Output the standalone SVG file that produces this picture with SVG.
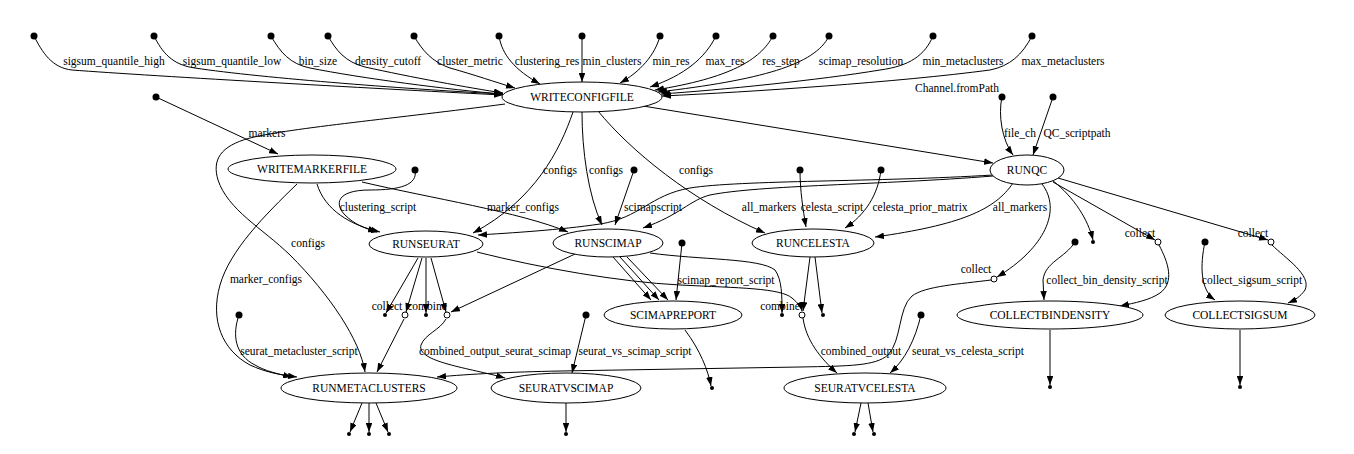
<svg xmlns="http://www.w3.org/2000/svg" width="1354" height="454" viewBox="0 0 1354 454">
<style>
text{font-family:"Liberation Serif","Times New Roman",serif;font-size:11.5px;fill:#000;text-anchor:middle}
.n ellipse{fill:#fff;stroke:#000;stroke-width:1}
.e path{fill:none;stroke:#000;stroke-width:1;marker-end:url(#a)}
.src{fill:#000}
.snk{fill:#000}
.oc{fill:#fff;stroke:#000;stroke-width:1}
</style>
<defs>
<marker id="a" viewBox="0 0 9 6.5" refX="9" refY="3.25" markerWidth="9" markerHeight="6.5" markerUnits="userSpaceOnUse" orient="auto"><path d="M0,0L9,3.25L0,6.5z" fill="#000"/></marker>
</defs>
<rect width="1354" height="454" fill="#fff"/>

<g id="connectors" class="e">
<path d="M34,36 C42,52 52,68 72,70 C150,76 400,90 503,95"/>
<path d="M154,36 C162,52 172,65 195,68 C260,78 420,90 503,94"/>
<path d="M271,36 C280,52 290,64 310,68 C360,78 450,90 503,94"/>
<path d="M328,36 C336,50 345,62 365,67 C410,77 470,88 503,93"/>
<path d="M414,36 C422,50 432,62 450,68 C475,75 495,82 515,88"/>
<path d="M499,36 C502,55 515,70 540,84"/>
<path d="M582,36 L582,82"/>
<path d="M660,36 C655,55 640,72 620,83"/>
<path d="M716,36 C705,58 685,75 650,87"/>
<path d="M773,36 C760,60 730,78 655,90"/>
<path d="M829,36 C815,65 760,80 658,92"/>
<path d="M933,36 C925,55 910,66 880,70 C820,80 720,90 661,94"/>
<path d="M1032,36 C1022,55 1010,66 990,70 C900,82 750,92 662,96"/>
<path d="M505,104 C400,118 290,128 250,138 C220,146 212,160 218,180 C228,210 262,228 290,255 C330,295 360,340 365,372"/>
<path d="M573,112 C560,150 535,200 473,233"/>
<path d="M582,112 C582,150 588,195 602,225"/>
<path d="M598,111 C630,150 690,200 765,233"/>
<path d="M643,106 L993,163"/>
<path d="M156,97 L278,154"/>
<path d="M1002,97 C998,115 1002,140 1013,155"/>
<path d="M1053,97 L1033,155"/>
<path d="M317,184 C325,210 350,225 380,232"/>
<path d="M362,182 C430,198 520,212 568,232"/>
<path d="M297,184 C265,215 230,250 220,285 C210,320 222,350 250,365 C265,372 280,375 297,377"/>
<path d="M415,170 C418,185 400,190 370,190 C335,190 335,205 345,215 C355,225 365,228 377,232"/>
<path d="M993,175 C880,182 740,180 690,188 C650,195 640,218 600,224 C560,230 510,233 478,235"/>
<path d="M993,176 C880,185 760,185 710,195 C690,200 680,215 643,228"/>
<path d="M1013,183 C995,210 960,225 875,237"/>
<path d="M1052,180 C1075,198 1088,220 1093,240"/>
<path d="M1053,182 L1155,240"/>
<path d="M1058,178 L1268,240"/>
<path d="M1042,184 C1062,210 1045,248 997,277"/>
<path d="M991,280 C960,284 925,286 912,296 C898,308 902,340 888,355 C875,366 850,366 800,367 L560,371 C510,372 470,374 437,377"/>
<path d="M1159,245 C1168,262 1175,282 1160,293 C1150,300 1135,303 1120,306"/>
<path d="M1272,245 C1285,258 1312,275 1305,290 C1300,297 1295,300 1288,303"/>
<path d="M1075,242 C1065,258 1045,262 1043,280 L1044,300"/>
<path d="M1205,242 C1200,265 1200,290 1215,300"/>
<path d="M1050,330 L1050,385"/>
<path d="M1240,330 L1240,385"/>
<path d="M418,258 L386,313"/>
<path d="M422,258 L406,312"/>
<path d="M426,258 L426,313"/>
<path d="M431,258 L446,312"/>
<path d="M404,319 L377,372"/>
<path d="M446,319 C440,330 425,334 421,345 C416,362 470,368 505,378"/>
<path d="M575,254 L451,312"/>
<path d="M477,252 C540,268 620,282 680,285 C740,288 780,288 792,298 C798,303 801,307 802,311"/>
<path d="M650,253 C700,260 760,258 775,270 C782,280 782,295 782,313"/>
<path d="M613,257 L651,300"/>
<path d="M620,257 L659,300"/>
<path d="M627,257 L668,300"/>
<path d="M682,243 L676,300"/>
<path d="M634,170 L615,225"/>
<path d="M800,170 C800,190 803,210 806,227"/>
<path d="M881,170 C878,195 865,215 845,228"/>
<path d="M810,257 L803,311"/>
<path d="M815,257 L822,313"/>
<path d="M803,318 C806,340 820,358 837,373"/>
<path d="M921,315 C915,340 905,360 890,373"/>
<path d="M685,330 C700,350 708,370 711,386"/>
<path d="M586,315 L572,373"/>
<path d="M239,315 C232,335 235,355 255,365 C265,371 278,374 292,377"/>
<path d="M566,403 L566,432"/>
<path d="M861,403 L855,432"/>
<path d="M868,403 L873,432"/>
<path d="M362,403 L350,432"/>
<path d="M369,403 L369,432"/>
<path d="M376,403 L388,432"/>
</g>

<g id="points">
<circle class="src" cx="34" cy="36" r="3.5"/><circle class="src" cx="154" cy="36" r="3.5"/>
<circle class="src" cx="271" cy="36" r="3.5"/><circle class="src" cx="328" cy="36" r="3.5"/>
<circle class="src" cx="414" cy="36" r="3.5"/><circle class="src" cx="499" cy="36" r="3.5"/>
<circle class="src" cx="582" cy="36" r="3.5"/><circle class="src" cx="660" cy="36" r="3.5"/>
<circle class="src" cx="716" cy="36" r="3.5"/><circle class="src" cx="773" cy="36" r="3.5"/>
<circle class="src" cx="829" cy="36" r="3.5"/><circle class="src" cx="933" cy="36" r="3.5"/>
<circle class="src" cx="1032" cy="36" r="3.5"/>
<circle class="src" cx="156" cy="97" r="3.5"/>
<circle class="src" cx="1002" cy="97" r="3.5"/><circle class="src" cx="1053" cy="97" r="3.5"/>
<circle class="src" cx="415" cy="170" r="3.5"/><circle class="src" cx="634" cy="170" r="3.5"/>
<circle class="src" cx="800" cy="170" r="3.5"/><circle class="src" cx="881" cy="170" r="3.5"/>
<circle class="src" cx="682" cy="243" r="3.5"/><circle class="src" cx="1075" cy="242" r="3.5"/>
<circle class="src" cx="1205" cy="242" r="3.5"/>
<circle class="src" cx="239" cy="315" r="3.5"/><circle class="src" cx="586" cy="315" r="3.5"/>
<circle class="src" cx="921" cy="315" r="3.5"/>
<circle class="snk" cx="1093" cy="242" r="2"/>
<circle class="snk" cx="385" cy="315" r="2"/><circle class="snk" cx="426" cy="315" r="2"/>
<circle class="snk" cx="782" cy="315" r="2"/><circle class="snk" cx="823" cy="315" r="2"/>
<circle class="snk" cx="712" cy="388" r="2"/>
<circle class="snk" cx="1050" cy="387" r="2"/><circle class="snk" cx="1240" cy="387" r="2"/>
<circle class="snk" cx="566" cy="434" r="2"/>
<circle class="snk" cx="854" cy="434" r="2"/><circle class="snk" cx="874" cy="434" r="2"/>
<circle class="snk" cx="349" cy="434" r="2"/><circle class="snk" cx="369" cy="434" r="2"/><circle class="snk" cx="389" cy="434" r="2"/>
<circle class="oc" cx="405" cy="315" r="3"/><circle class="oc" cx="447" cy="315" r="3"/>
<circle class="oc" cx="802" cy="315" r="3"/>
<circle class="oc" cx="1158" cy="242" r="3"/><circle class="oc" cx="1271" cy="242" r="3"/>
<circle class="oc" cx="994" cy="279" r="3"/>
</g>

<g id="edge-labels">
<text x="114" y="65">sigsum_quantile_high</text>
<text x="232" y="65">sigsum_quantile_low</text>
<text x="318" y="65">bin_size</text>
<text x="388" y="65">density_cutoff</text>
<text x="470" y="65">cluster_metric</text>
<text x="547" y="65">clustering_res</text>
<text x="612" y="65">min_clusters</text>
<text x="671" y="65">min_res</text>
<text x="725" y="65">max_res</text>
<text x="781" y="65">res_step</text>
<text x="861" y="65">scimap_resolution</text>
<text x="963" y="65">min_metaclusters</text>
<text x="1063" y="65">max_metaclusters</text>
<text x="957" y="92">Channel.fromPath</text>
<text x="267" y="137">markers</text>
<text x="1020" y="137">file_ch</text>
<text x="1077" y="137">QC_scriptpath</text>
<text x="560" y="174">configs</text>
<text x="606" y="174">configs</text>
<text x="696" y="174">configs</text>
<text x="378" y="211">clustering_script</text>
<text x="523" y="211">marker_configs</text>
<text x="653" y="211">scimapscript</text>
<text x="769" y="211">all_markers</text>
<text x="832" y="211">celesta_script</text>
<text x="920" y="211">celesta_prior_matrix</text>
<text x="1020" y="211">all_markers</text>
<text x="1140" y="237">collect</text>
<text x="1253" y="237">collect</text>
<text x="308" y="247">configs</text>
<text x="976" y="273">collect</text>
<text x="266" y="283">marker_configs</text>
<text x="726" y="284">scimap_report_script</text>
<text x="1107" y="284">collect_bin_density_script</text>
<text x="1252" y="284">collect_sigsum_script</text>
<text x="387" y="310">collect</text>
<text x="427" y="310">combine</text>
<text x="780" y="310">combine</text>
<text x="299" y="355">seurat_metacluster_script</text>
<text x="495" y="355">combined_output_seurat_scimap</text>
<text x="635" y="355">seurat_vs_scimap_script</text>
<text x="861" y="355">combined_output</text>
<text x="968" y="355">seurat_vs_celesta_script</text>
</g>

<g id="WRITECONFIGFILE" class="n"><ellipse cx="582" cy="97" rx="80" ry="15"/><text x="582" y="101">WRITECONFIGFILE</text></g>
<g id="WRITEMARKERFILE" class="n"><ellipse cx="312" cy="169" rx="84" ry="14"/><text x="312" y="173">WRITEMARKERFILE</text></g>
<g id="RUNQC" class="n"><ellipse cx="1027" cy="170" rx="37" ry="15"/><text x="1027" y="174">RUNQC</text></g>
<g id="RUNSEURAT" class="n"><ellipse cx="426" cy="244" rx="57" ry="13"/><text x="426" y="248">RUNSEURAT</text></g>
<g id="RUNSCIMAP" class="n"><ellipse cx="608" cy="243" rx="55" ry="14"/><text x="608" y="247">RUNSCIMAP</text></g>
<g id="RUNCELESTA" class="n"><ellipse cx="813" cy="243" rx="61" ry="14"/><text x="813" y="247">RUNCELESTA</text></g>
<g id="SCIMAPREPORT" class="n"><ellipse cx="673" cy="315" rx="69" ry="14"/><text x="673" y="319">SCIMAPREPORT</text></g>
<g id="COLLECTBINDENSITY" class="n"><ellipse cx="1050" cy="315" rx="93" ry="14"/><text x="1050" y="319">COLLECTBINDENSITY</text></g>
<g id="COLLECTSIGSUM" class="n"><ellipse cx="1240" cy="315" rx="75" ry="14"/><text x="1240" y="319">COLLECTSIGSUM</text></g>
<g id="RUNMETACLUSTERS" class="n"><ellipse cx="369" cy="388" rx="88" ry="15"/><text x="369" y="392">RUNMETACLUSTERS</text></g>
<g id="SEURATVSCIMAP" class="n"><ellipse cx="566" cy="388" rx="75" ry="15"/><text x="566" y="392">SEURATVSCIMAP</text></g>
<g id="SEURATVCELESTA" class="n"><ellipse cx="865" cy="388" rx="81" ry="15"/><text x="865" y="392">SEURATVCELESTA</text></g>
</svg>
